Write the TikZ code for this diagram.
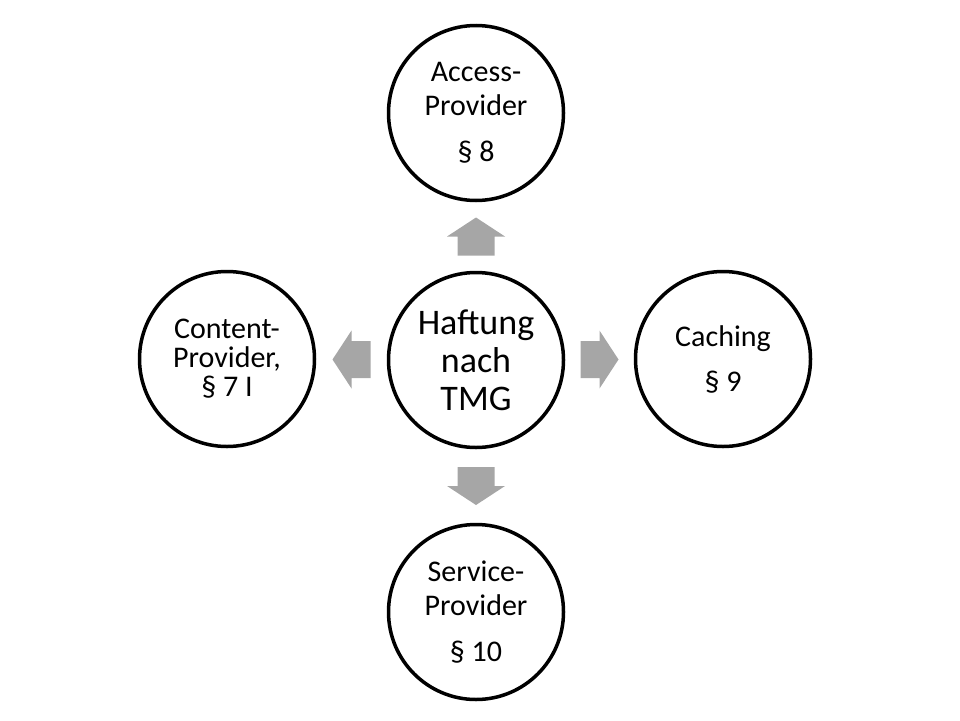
\documentclass[tikz,border=0pt]{standalone}
\usepackage{fontspec}
\setmainfont{Carlito}
\usetikzlibrary{calc}
\definecolor{arrowgray}{RGB}{166,166,166}
\tikzset{
  topic/.style={circle, draw=black, line width=3.5pt, fill=white, minimum size=175pt,
    inner sep=0pt, align=center, font=\fontsize{30}{34}\selectfont},
  pics/blockarrow/.style={code={
    \fill[arrowgray] (-19,-18.5) -- (0,-18.5) -- (0,-29) -- (19,0)
      -- (0,29) -- (0,18.5) -- (-19,18.5) -- cycle;}}
}
\begin{document}
\begin{tikzpicture}[x=1pt,y=-1pt]
\useasboundingbox (0,0) rectangle (960,720);

\node[topic, font=\fontsize{36}{38}\selectfont] (haftung) at (476,360) {Haftung\\nach\\TMG};
\node[topic] (access) at (476,113) {Access-\\Provider\\[12pt]§ 8};
\node[topic, font=\fontsize{30}{29}\selectfont] (content) at (227,359) {Content-\\Provider,\\§ 7 I};
\node[topic] (caching) at (723,359) {Caching\\[11pt]§ 9};
\node[topic] (service) at (476,612) {Service-\\Provider\\[12pt]§ 10};

\pic[rotate=90] (toaccess) at ($(haftung)!0.5!(access)$) {blockarrow};
\pic[rotate=270] (toservice) at ($(haftung)!0.5!(service)$) {blockarrow};
\pic[rotate=180] (tocontent) at ($(haftung)!0.5!(content)$) {blockarrow};
\pic (tocaching) at ($(haftung)!0.5!(caching)$) {blockarrow};
\end{tikzpicture}
\end{document}
